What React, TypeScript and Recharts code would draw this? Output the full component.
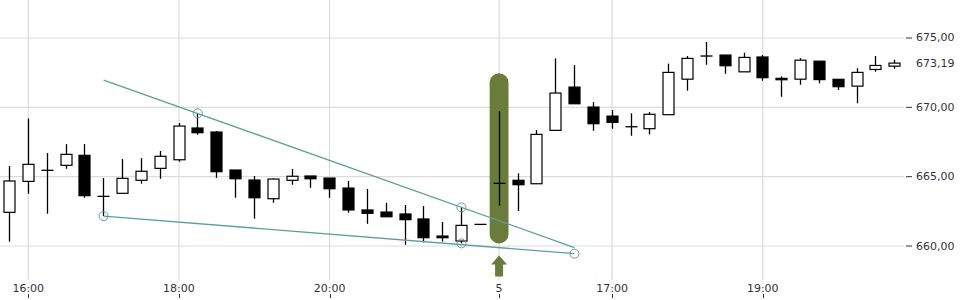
import React from 'react';
import {
  ComposedChart, Bar, XAxis, YAxis, CartesianGrid,
  ReferenceArea, ReferenceLine, ReferenceDot,
} from 'recharts';

// ─── Data ────────────────────────────────────────────────────────────────────

// 15-minute candles, day 4 (15:45 → 22:00) then day 5 (15:30 → 20:45)
const TIMES = [
  '4 15:45', '4 16:00', '4 16:15', '4 16:30', '4 16:45', '4 17:00', '4 17:15', '4 17:30',
  '4 17:45', '4 18:00', '4 18:15', '4 18:30', '4 18:45', '4 19:00', '4 19:15', '4 19:30',
  '4 19:45', '4 20:00', '4 20:15', '4 20:30', '4 20:45', '4 21:00', '4 21:15', '4 21:30',
  '4 21:45', '4 22:00',
  '5 15:30', '5 15:45', '5 16:00', '5 16:15', '5 16:30', '5 16:45', '5 17:00', '5 17:15',
  '5 17:30', '5 17:45', '5 18:00', '5 18:15', '5 18:30', '5 18:45', '5 19:00', '5 19:15',
  '5 19:30', '5 19:45', '5 20:00', '5 20:15', '5 20:30', '5 20:45',
];

const OPEN = [
  662.43, 664.66, 665.46, 665.82, 666.54, 663.58, 663.80, 664.74, 665.60, 666.22,
  668.51, 668.22, 665.48, 664.76, 663.41, 664.74, 665.05, 664.90, 664.18, 662.60,
  662.45, 662.31, 661.95, 660.72, 660.36, 661.56,
  664.52, 664.74, 664.49, 668.34, 671.46, 670.02, 669.37, 668.60, 668.46, 669.47,
  672.03, 673.70, 673.77, 672.56, 673.63, 672.09, 672.03, 673.33, 672.02, 671.53,
  672.73, 672.97,
];
const HIGH = [
  665.77, 669.20, 666.70, 667.35, 667.35, 664.90, 666.27, 666.34, 666.85, 668.87,
  669.57, 668.29, 665.48, 665.05, 664.88, 665.55, 665.05, 664.90, 664.69, 664.11,
  663.12, 662.96, 662.88, 661.73, 662.79, 661.56,
  669.73, 665.24, 668.36, 673.53, 673.05, 670.38, 669.81, 669.57, 669.66, 673.15,
  673.70, 674.71, 673.77, 673.94, 673.77, 672.23, 673.55, 673.33, 672.02, 672.82,
  673.70, 673.43,
];
const LOW = [
  660.31, 663.77, 662.33, 665.57, 663.48, 662.16, 663.80, 664.49, 664.85, 666.08,
  668.03, 664.92, 663.48, 661.97, 663.12, 664.42, 664.20, 663.48, 662.40, 661.60,
  662.11, 660.09, 660.27, 660.31, 660.19, 661.56,
  662.91, 662.52, 664.49, 668.34, 670.26, 668.31, 668.46, 667.95, 668.05, 669.47,
  671.20, 673.07, 672.42, 672.56, 671.92, 670.76, 671.63, 671.73, 671.25, 670.29,
  672.57, 672.78,
];
const CLOSE = [
  664.69, 665.89, 665.46, 666.61, 663.63, 663.58, 664.88, 665.39, 666.47, 668.65,
  668.17, 665.36, 664.85, 663.48, 664.83, 665.03, 664.85, 664.13, 662.60, 662.36,
  662.11, 661.90, 660.60, 660.60, 661.49, 661.56,
  664.52, 664.42, 668.05, 671.03, 670.26, 668.82, 668.92, 668.60, 669.50, 672.52,
  673.53, 673.70, 673.00, 673.60, 672.14, 671.99, 673.40, 672.00, 671.49, 672.52,
  673.02, 673.19,
];

const X_TICKS  = ['4 16:00', '4 18:00', '4 20:00', '5 15:30', '5 17:00', '5 19:00'];
const X_LABELS = ['16:00', '18:00', '20:00', '5', '17:00', '19:00'];
const Y_GRID   = [660, 665, 670, 675];
const LAST     = 673.19;

// falling wedge: [time, price] pairs
const UPPER_LINE = [['4 17:00', 671.97], ['5 16:30', 659.89]] as const;
const LOWER_LINE = [['4 17:00', 662.16], ['5 16:30', 659.45]] as const;
const PIVOTS = [
  ['4 17:00', 662.16], ['4 18:15', 669.57], ['4 21:45', 662.79],
  ['4 21:45', 660.19], ['5 16:30', 659.45],
] as const;

const SIGNAL_TIME = '5 15:30';
const SIGNAL_BAND = [660.19, 672.45];

const C = {
  grid: '#dcdcdc',
  text: '#333333',
  wedge: '#5f9ea0',
  signal: '#6b7b39',
};

const data = TIMES.map((t, i) => ({
  t, o: OPEN[i], h: HIGH[i], l: LOW[i], c: CLOSE[i], hl: [LOW[i], HIGH[i]],
}));

// ─── Shapes ──────────────────────────────────────────────────────────────────

function Candle(props: any) {
  const { x, y, width, height, payload } = props;
  const { o, h, l, c } = payload;
  const top = Math.min(y, y + height);
  const hgt = Math.abs(height);
  const py = (v: number) => (h === l ? top : top + ((h - v) / (h - l)) * hgt);
  const cx = Math.round(x + width / 2) + 0.5;
  const half = 6;
  const bTop = py(Math.max(o, c));
  const bBot = py(Math.min(o, c));
  const down = c < o;
  return (
    <g>
      {h !== l && <line x1={cx} x2={cx} y1={py(h)} y2={py(l)} stroke="#000" strokeWidth={1.3} />}
      {o === c ? (
        <line x1={cx - half} x2={cx + half} y1={bTop} y2={bTop} stroke="#000" strokeWidth={1.3} />
      ) : (
        <rect
          x={cx - half + 0.5} y={bTop} width={half * 2 - 1} height={Math.max(bBot - bTop, 1)}
          fill={down ? '#000' : '#fff'} stroke="#000" strokeWidth={1.2}
        />
      )}
    </g>
  );
}

function SignalShape(props: any) {
  const { x, y, width, height } = props;
  const cx = x + width / 2;
  const b = y + height;
  return (
    <g>
      <rect x={x} y={y} width={width} height={height} rx={width / 2} ry={9} fill={C.signal} />
      <path
        d={`M${cx} ${b + 12} L${cx + 8} ${b + 21} L${cx + 4} ${b + 21} L${cx + 4} ${b + 33}
            L${cx - 4} ${b + 33} L${cx - 4} ${b + 21} L${cx - 8} ${b + 21} Z`}
        fill={C.signal}
      />
    </g>
  );
}

function XTick({ x, y, payload }: any) {
  const label = X_LABELS[X_TICKS.indexOf(payload.value)];
  const px = Math.round(x) + 0.5;
  return (
    <g>
      <text x={x} y={y + 12} textAnchor="middle" fontSize={11} fontFamily="DejaVu Sans" fill={C.text}>{label}</text>
      <line x1={px} x2={px} y1={y + 14} y2={y + 18} stroke={C.text} strokeWidth={1} />
    </g>
  );
}

function YTick({ x, y, payload }: any) {
  const v = payload.value as number;
  const isLast = v === LAST;
  return (
    <g>
      {!isLast && <line x1={x + 2} x2={x + 8} y1={y} y2={y} stroke={C.text} strokeWidth={1} />}
      <text x={x + 12} y={y} dominantBaseline="central" fontSize={11} fontFamily="DejaVu Sans" fill={C.text}>
        {v.toFixed(2).replace('.', ',')}
      </text>
    </g>
  );
}

// ─── Chart ───────────────────────────────────────────────────────────────────

export default function App() {
  return (
    <div style={{ position: 'absolute', left: 0, top: 0, width: 960, height: 300, background: '#fff' }}>
      <ComposedChart width={960} height={300} data={data} margin={{ top: 0, right: 0, left: 0, bottom: 0 }}>
        <CartesianGrid
          stroke={C.grid} strokeWidth={1.2}
          horizontalValues={Y_GRID} verticalValues={X_TICKS}
        />
        <XAxis
          dataKey="t" type="category" height={20}
          ticks={X_TICKS} interval={0} axisLine={false} tickLine={false}
          tickSize={0} tickMargin={0} tick={<XTick />}
        />
        <YAxis
          orientation="right" width={56} type="number"
          domain={[657.55, 677.74]} allowDataOverflow
          ticks={[...Y_GRID, LAST]} interval={0}
          axisLine={false} tickLine={false} tickSize={0} tickMargin={0} tick={<YTick />}
        />
        <ReferenceArea
          x1={SIGNAL_TIME} x2={SIGNAL_TIME} y1={SIGNAL_BAND[0]} y2={SIGNAL_BAND[1]}
          ifOverflow="visible" shape={<SignalShape />}
        />
        <Bar dataKey="hl" barSize={12} shape={<Candle />} isAnimationActive={false} />
        <ReferenceLine
          segment={UPPER_LINE.map(([x, y]) => ({ x, y }))}
          stroke={C.wedge} strokeWidth={1.3} ifOverflow="visible"
        />
        <ReferenceLine
          segment={LOWER_LINE.map(([x, y]) => ({ x, y }))}
          stroke={C.wedge} strokeWidth={1.3} ifOverflow="visible"
        />
        {PIVOTS.map(([x, y], i) => (
          <ReferenceDot key={i} x={x} y={y} r={4.5} fill="none" stroke={C.wedge} strokeWidth={1} ifOverflow="visible" />
        ))}
      </ComposedChart>
    </div>
  );
}
